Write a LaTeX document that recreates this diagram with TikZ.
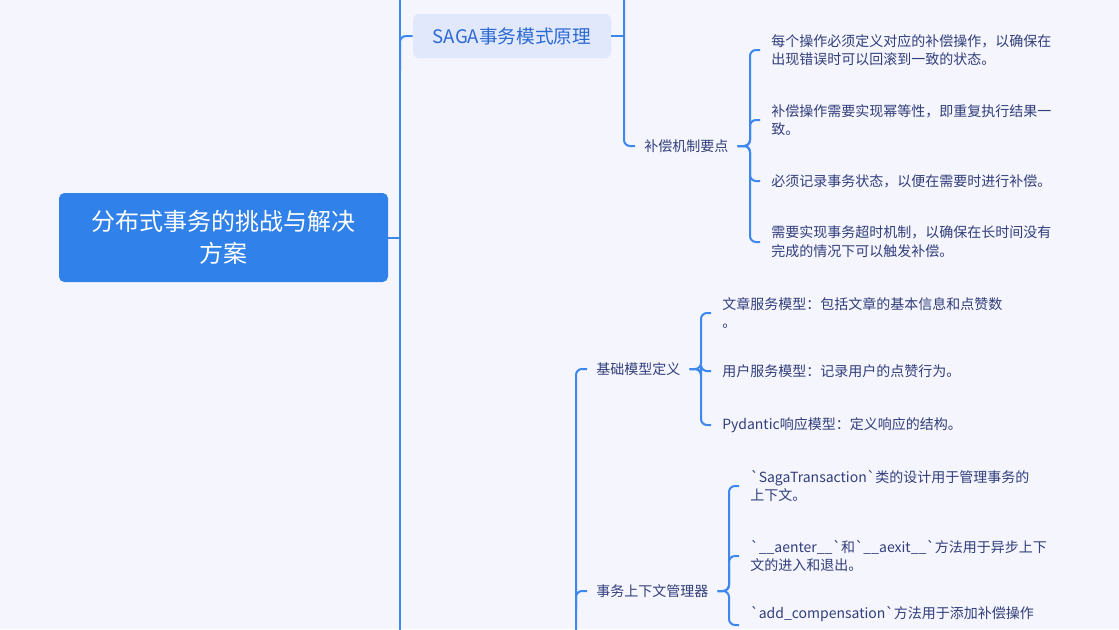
\documentclass[tikz,border=0pt]{standalone}
\usepackage{fontspec}
\setmainfont{Noto Sans CJK SC}
\definecolor{bgc}{HTML}{F4F5FD}
\definecolor{rootblue}{HTML}{3181EA}
\definecolor{linkblue}{HTML}{3C87F0}
\definecolor{subfill}{HTML}{E1E8FC}
\definecolor{subtext}{HTML}{2B6AD3}
\definecolor{leaftext}{HTML}{323E7B}
\tikzset{
  rootbox/.style={fill=rootblue, rounded corners=4pt, text=white, align=center,
    minimum width=246.75pt, minimum height=66.75pt, inner sep=0pt,
    font=\fontsize{18pt}{24pt}\selectfont},
  subbox/.style={fill=subfill, rounded corners=4.5pt, text=subtext,
    minimum width=148.5pt, minimum height=33pt, inner sep=0pt,
    font=\fontsize{14pt}{18pt}\selectfont},
  midtext/.style={anchor=west, text=leaftext, inner xsep=6.75pt, inner ysep=0pt,
    font=\fontsize{10.5pt}{14pt}\selectfont},
  leaf/.style={anchor=west, text=leaftext, align=left, inner xsep=8.25pt, inner ysep=0pt,
    font=\fontsize{10.5pt}{14pt}\selectfont},
  conn/.style={draw=linkblue, line width=1.5pt, rounded corners=4.5pt}
}
\begin{document}
\begin{tikzpicture}[x=0.75pt,y=-0.75pt]
\clip (0,0) rectangle (1119,629);
\fill[bgc] (0,0) rectangle (1119,629);

% nodes
\node[rootbox] (root) at (223.5,237.5) {分布式事务的挑战与解决\\方案};
\node[subbox] (saga) at (512,36) {SAGA事务模式原理};
\node[midtext] (bc) at (635,146) {补偿机制要点};
\node[leaf] (l1) at (760,50) {每个操作必须定义对应的补偿操作，以确保在\\出现错误时可以回滚到一致的状态。};
\node[leaf] (l2) at (760,120) {补偿操作需要实现幂等性，即重复执行结果一\\致。};
\node[leaf] (l3) at (760,181) {必须记录事务状态，以便在需要时进行补偿。};
\node[leaf] (l4) at (760,242) {需要实现事务超时机制，以确保在长时间没有\\完成的情况下可以触发补偿。};

\node[midtext] (jc) at (587,369) {基础模型定义};
\node[leaf] (m1) at (711,313) {文章服务模型：包括文章的基本信息和点赞数\\。};
\node[leaf] (m2) at (711,371) {用户服务模型：记录用户的点赞行为。};
\node[leaf] (m3) at (711,425) {Pydantic响应模型：定义响应的结构。};

\node[midtext] (sw) at (587,591) {事务上下文管理器};
\node[leaf] (n1) at (739,486) {\textasciigrave{}SagaTransaction\textasciigrave{}类的设计用于管理事务的\\上下文。};
\node[leaf] (n2) at (739,556) {\textasciigrave{}\_\_aenter\_\_\textasciigrave{}和\textasciigrave{}\_\_aexit\_\_\textasciigrave{}方法用于异步上下\\文的进入和退出。};
\node[leaf] (n3) at (739,625) {\textasciigrave{}add\_compensation\textasciigrave{}方法用于添加补偿操作\\\strut};

% coordinates
\coordinate (trunktop) at (400,-10);
\coordinate (trunkbot) at (400,640);
\coordinate (sagafork) at (400,70);
\coordinate (c2top) at (624,-10);
\coordinate (c3bot) at (576,640);
\coordinate (c3mid) at (576,610);
\coordinate (f1) at (750,0);
\coordinate (f2) at (701,0);
\coordinate (f3) at (729,0);

% connectors
\draw[conn] (trunktop) -- (trunkbot);
\draw[conn] (root.east) -- (root.east -| trunktop);
\draw[conn] (sagafork) |- (saga.west);
\draw[conn] (saga.east) -- (saga.east -| c2top);
\draw[conn] (c2top) |- (bc.west);
\foreach \c in {l1,l2,l3,l4}
  \draw[conn] (bc.east) -- (bc.east -| f1) |- (\c.west);

\draw[conn] (c3bot) |- (jc.west);
\draw[conn] (c3mid) |- (sw.west);
\foreach \c in {m1,m2,m3}
  \draw[conn] (jc.east) -- (jc.east -| f2) |- (\c.west);
\foreach \c in {n1,n2,n3}
  \draw[conn] (sw.east) -- (sw.east -| f3) |- (\c.west);
\end{tikzpicture}
\end{document}
